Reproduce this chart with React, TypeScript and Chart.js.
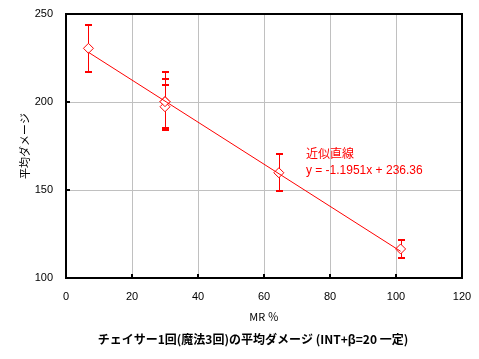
import React, { useEffect, useRef } from 'react';
import { Chart, registerables } from 'chart.js';

Chart.register(...registerables);

// MR% (x) and average damage (y) of each measured point
const mrPercent = [6.8, 30.0, 30.0, 30.0, 64.5, 101.4];
const avgDamage = [230.5, 200.2, 197.3, 200.2, 159.8, 116.5];
const errLow = [216.9, 185.4, 184.3, 185.4, 149.4, 111.5];
const errHigh = [243.9, 216.9, 213.1, 209.7, 170.6, 121.4];

// trend line y = -1.1951x + 236.36, drawn between first and last point
const trendX = [6.8, 101.4];
const trendY = [228.23, 115.18];

const xTicks = [0, 20, 40, 60, 80, 100, 120];
const yTicks = [100, 150, 200, 250];

const trendLabel = '近似直線';
const trendEquation = 'y = -1.1951x + 236.36';
const labelAnchor = { x: 72.7, y1: 171.0, y2: 160.8 };

const xTitle = 'MR ％';
const yTitle = '平均ダメージ';
const chartTitle = 'チェイサー1回(魔法3回)の平均ダメージ (INT+β=20 一定)';

const FONT = '"Liberation Sans", "Noto Sans CJK JP", sans-serif';
const JFONT = '"Noto Sans CJK JP", "Liberation Sans", sans-serif';

const customPlugin = {
  id: 'customDecor',
  beforeDatasetsDraw(chart: any) {
    const { ctx, scales } = chart;
    const x = scales.x, y = scales.y;
    ctx.save();
    ctx.strokeStyle = '#ff0000';
    for (let i = 0; i < mrPercent.length; i++) {
      const px = Math.round(x.getPixelForValue(mrPercent[i])) + 0.5;
      const top = Math.round(y.getPixelForValue(errHigh[i]));
      const bot = Math.round(y.getPixelForValue(errLow[i]));
      ctx.lineWidth = 1;
      ctx.beginPath();
      ctx.moveTo(px, top);
      ctx.lineTo(px, bot);
      ctx.stroke();
      ctx.lineWidth = 2;
      ctx.beginPath();
      ctx.moveTo(px - 3.5, top);
      ctx.lineTo(px + 3.5, top);
      ctx.moveTo(px - 3.5, bot);
      ctx.lineTo(px + 3.5, bot);
      ctx.stroke();
    }
    ctx.restore();
  },
  afterDraw(chart: any) {
    const { ctx, chartArea: a, scales } = chart;
    const x = scales.x, y = scales.y;
    ctx.save();
    ctx.strokeStyle = '#000';
    ctx.lineWidth = 2;
    ctx.strokeRect(a.left, a.top, a.right - a.left, a.bottom - a.top);
    ctx.beginPath();
    for (const v of xTicks) {
      const px = Math.round(x.getPixelForValue(v));
      ctx.moveTo(px, a.bottom);
      ctx.lineTo(px, a.bottom - 4);
    }
    for (const v of yTicks) {
      const py = Math.round(y.getPixelForValue(v));
      ctx.moveTo(a.left, py);
      ctx.lineTo(a.left + 4, py);
    }
    ctx.stroke();

    ctx.fillStyle = '#ff0000';
    ctx.textAlign = 'left';
    ctx.textBaseline = 'middle';
    const lx = x.getPixelForValue(labelAnchor.x);
    ctx.font = '12px ' + JFONT;
    ctx.fillText(trendLabel, lx, y.getPixelForValue(labelAnchor.y1));
    ctx.font = '12px ' + FONT;
    ctx.fillText(trendEquation, lx, y.getPixelForValue(labelAnchor.y2));

    // chart title under the plot
    ctx.fillStyle = '#000';
    ctx.textAlign = 'center';
    ctx.font = 'bold 12px ' + JFONT;
    ctx.fillText(chartTitle, 253, 339);
    ctx.restore();
  },
};

export default function App() {
  const ref = useRef<HTMLCanvasElement>(null);
  useEffect(() => {
    if (!ref.current) return;
    const points = mrPercent.map((v, i) => ({ x: v, y: avgDamage[i] }));
    const trend = trendX.map((v, i) => ({ x: v, y: trendY[i] }));
    const chart = new Chart(ref.current, {
      type: 'scatter',
      data: {
        datasets: [
          {
            type: 'line',
            label: 'trend',
            data: trend,
            borderColor: '#ff0000',
            borderWidth: 1,
            pointRadius: 0,
            fill: false,
            order: 0,
          } as any,
          {
            label: 'data',
            data: points,
            pointStyle: 'rectRot',
            pointRadius: 5,
            borderColor: '#ff0000',
            backgroundColor: '#ffffff',
            borderWidth: 1,
            order: 1,
          },
        ],
      },
      options: {
        animation: false,
        responsive: false,
        layout: { padding: { left: 0, top: 14, right: 17, bottom: 0 } },
        plugins: {
          legend: { display: false },
          tooltip: { enabled: false },
          title: { display: false },
        },
        scales: {
          x: {
            type: 'linear',
            min: 0,
            max: 120,
            afterBuildTicks: (s: any) => {
              s.ticks = xTicks.map((v) => ({ value: v }));
            },
            afterFit: (s: any) => {
              s.height = 359 - 278;
              s.paddingLeft = 0;
              s.paddingRight = 0;
            },
            ticks: {
              color: '#000',
              font: { family: FONT, size: 11 },
              padding: 12,
              maxRotation: 0,
            },
            grid: { color: '#c0c0c0', lineWidth: 1, drawTicks: false },
            border: { display: false },
            title: {
              display: true,
              text: xTitle,
              color: '#000',
              font: { family: JFONT, size: 11, lineHeight: 1.2 },
              padding: { top: 0, bottom: 36 },
            },
          },
          y: {
            type: 'linear',
            min: 100,
            max: 250,
            afterBuildTicks: (s: any) => {
              s.ticks = yTicks.map((v) => ({ value: v }));
            },
            afterFit: (s: any) => {
              s.width = 66;
              s.paddingTop = 0;
              s.paddingBottom = 0;
            },
            ticks: {
              color: '#000',
              font: { family: FONT, size: 11 },
              padding: 13,
            },
            grid: { color: '#c0c0c0', lineWidth: 1, drawTicks: false },
            border: { display: false },
            title: {
              display: true,
              text: yTitle,
              color: '#000',
              font: { family: JFONT, size: 11, lineHeight: 1.2 },
              padding: { top: 18, bottom: 0 },
            },
          },
        },
      },
      plugins: [customPlugin],
    });
    return () => chart.destroy();
  }, []);
  return (
    <div style={{ position: 'fixed', left: 0, top: 0, width: 479, height: 359, background: '#fff' }}>
      <canvas ref={ref} width={479} height={359} />
    </div>
  );
}
